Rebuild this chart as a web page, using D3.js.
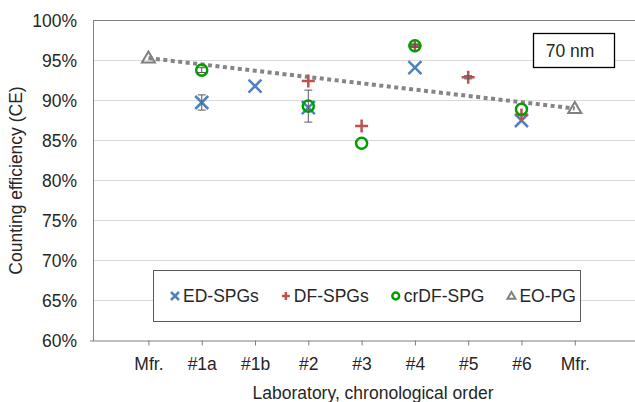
<!DOCTYPE html>
<html>
<head>
<meta charset="utf-8">
<script src="https://cdn.jsdelivr.net/npm/d3@7"></script>
<style>
  body { margin: 0; background: #fff; }
  text { font-family: "Liberation Sans", Arial, sans-serif; fill: #262626; }
</style>
</head>
<body>
<div id="chart"></div>
<script>
// counting efficiency per lab, 70 nm
var labs = ["Mfr.", "#1a", "#1b", "#2", "#3", "#4", "#5", "#6", "Mfr."];
var edSpg = [null, 89.75, 91.8, 89.1, null, 94.1, null, 87.5, null];
var edErr = [0, 0.95, 0, 0, 0, 0, 0, 0, 0];
var dfSpg = [null, null, null, 92.45, 86.8, 96.85, 92.9, 88.2, null];
var dfErr = [0, 0, 0, 0, 0, 0.2, 0.2, 0, 0];
var crdfSpg = [null, 93.8, null, 89.3, 84.65, 96.85, null, 88.9, null];
var crdfErr = [0, 0.3, 0, 2.0, 0, 0.2, 0, 0, 0];
var eoPg = [95.3, null, null, null, null, null, null, null, 89.0];
var yTicks = [60, 65, 70, 75, 80, 85, 90, 95, 100];

var W = 635, H = 402;
var plot = { left: 93, top: 20.5, bottom: 340.5, right: 635 };
var fs = "17.5px";

var svg = d3.select("#chart").append("svg")
  .attr("width", W).attr("height", H);

var x = d3.scaleLinear().domain([-1.04, 9.13]).range([plot.left, plot.right]);
var y = d3.scaleLinear().domain([60, 100]).range([plot.bottom, plot.top]);

// gridlines
svg.append("g").selectAll("line")
  .data(yTicks.filter(function(d){ return d > 60; }))
  .enter().append("line")
  .attr("x1", plot.left).attr("x2", plot.right)
  .attr("y1", function(d){ return y(d); })
  .attr("y2", function(d){ return y(d); })
  .attr("stroke", function(d){ return d == 100 ? "#7f7f7f" : "#d9d9d9"; })
  .attr("stroke-width", 1);

// y axis
var yAxis = d3.axisLeft(y).tickValues(yTicks).tickSize(0).tickPadding(16)
  .tickFormat(function(d){ return d + "%"; });
var gy = svg.append("g").attr("transform", "translate(" + plot.left + ",0)").call(yAxis);
gy.select(".domain").attr("stroke", "#7f7f7f");
gy.selectAll("text").style("font-size", fs).attr("fill", "#262626");

// x axis
var xAxis = d3.axisBottom(x).tickValues(d3.range(labs.length)).tickSize(5).tickSizeOuter(0)
  .tickPadding(12)
  .tickFormat(function(i){ return labs[i]; });
var gx = svg.append("g").attr("transform", "translate(0," + plot.bottom + ")").call(xAxis);
gx.select(".domain").attr("stroke", "#7f7f7f").attr("d", "M" + (plot.left - 3) + ",0.5H" + plot.right);
gx.selectAll(".tick line").attr("stroke", "#7f7f7f");
gx.selectAll("text").style("font-size", fs).attr("fill", "#262626");

// axis titles
svg.append("text")
  .attr("x", 373).attr("y", 399)
  .attr("text-anchor", "middle").style("font-size", fs)
  .text("Laboratory, chronological order");
svg.append("text")
  .attr("transform", "translate(22," + ((plot.top + plot.bottom) / 2) + ") rotate(-90)")
  .attr("text-anchor", "middle").style("font-size", fs)
  .text("Counting efficiency (CE)");

// EO-PG dotted line
var eoPts = eoPg.map(function(v, i){ return [i, v]; }).filter(function(d){ return d[1] != null; });
svg.append("path")
  .datum(eoPts)
  .attr("d", d3.line().x(function(d){ return x(d[0]); }).y(function(d){ return y(d[1]); }))
  .attr("fill", "none").attr("stroke", "#858585")
  .attr("stroke-width", 4).attr("stroke-dasharray", "4,3.5");

// marker shapes
function drawMarker(g, type, s, color) {
  if (type == "x") {
    g.append("path").attr("d", "M" + (-s) + "," + (-s) + "L" + s + "," + s + "M" + (-s) + "," + s + "L" + s + "," + (-s))
      .attr("stroke", color).attr("stroke-width", 2.5).attr("fill", "none");
  } else if (type == "plus") {
    g.append("path").attr("d", "M" + (-s) + ",0H" + s + "M0," + (-s) + "V" + s)
      .attr("stroke", color).attr("stroke-width", 2.5).attr("fill", "none");
  } else if (type == "circle") {
    g.append("circle").attr("r", s * 0.85)
      .attr("stroke", color).attr("stroke-width", 2.5).attr("fill", "none");
  } else {
    var h = s * 1.7;
    g.append("path").attr("d", "M0," + (-h * 0.6) + "L" + s + "," + (h * 0.4) + "L" + (-s) + "," + (h * 0.4) + "Z")
      .attr("stroke", color).attr("stroke-width", 2).attr("fill", "none");
  }
}

var series = [
  { name: "ED-SPGs", vals: edSpg, err: edErr, type: "x", color: "#4f81bd" },
  { name: "DF-SPGs", vals: dfSpg, err: dfErr, type: "plus", color: "#c0504d" },
  { name: "crDF-SPG", vals: crdfSpg, err: crdfErr, type: "circle", color: "#00a000" },
  { name: "EO-PG", vals: eoPg, err: null, type: "tri", color: "#808080" }
];

series.forEach(function(s) {
  s.vals.forEach(function(v, i) {
    if (v == null) return;
    var g = svg.append("g").attr("transform", "translate(" + x(i) + "," + y(v) + ")");
    drawMarker(g, s.type, 6.5, s.color);
  });
});

// error bars on top
series.forEach(function(s) {
  if (!s.err) return;
  s.vals.forEach(function(v, i) {
    if (v == null || !s.err[i]) return;
    var cx = x(i), y1 = y(v + s.err[i]), y2 = y(v - s.err[i]);
    svg.append("path")
      .attr("d", "M" + cx + "," + y1 + "V" + y2 + "M" + (cx - 4) + "," + y1 + "H" + (cx + 4) + "M" + (cx - 4) + "," + y2 + "H" + (cx + 4))
      .attr("stroke", "#595959").attr("stroke-width", 1).attr("fill", "none");
  });
});

// legend
var lg = svg.append("g");
lg.append("rect").attr("x", 153.5).attr("y", 270.5).attr("width", 427).attr("height", 51)
  .attr("fill", "#fff").attr("stroke", "#595959").attr("stroke-width", 1);
var lx = 175, ly = 296;
series.forEach(function(s) {
  var g = lg.append("g").attr("transform", "translate(" + lx + "," + ly + ")");
  drawMarker(g, s.type, 4, s.color);
  var t = lg.append("text").attr("x", lx + 8).attr("y", ly).attr("dy", "0.36em")
    .style("font-size", fs).text(s.name);
  lx = lx + 8 + t.node().getComputedTextLength() + 27;
});

// size label
svg.append("rect").attr("x", 533.5).attr("y", 33.5).attr("width", 81).attr("height", 34)
  .attr("fill", "#fff").attr("stroke", "#000").attr("stroke-width", 1.3);
svg.append("text").attr("x", 570).attr("y", 50.5).attr("dy", "0.36em")
  .attr("text-anchor", "middle").style("font-size", fs).text("70 nm");
</script>
</body>
</html>
